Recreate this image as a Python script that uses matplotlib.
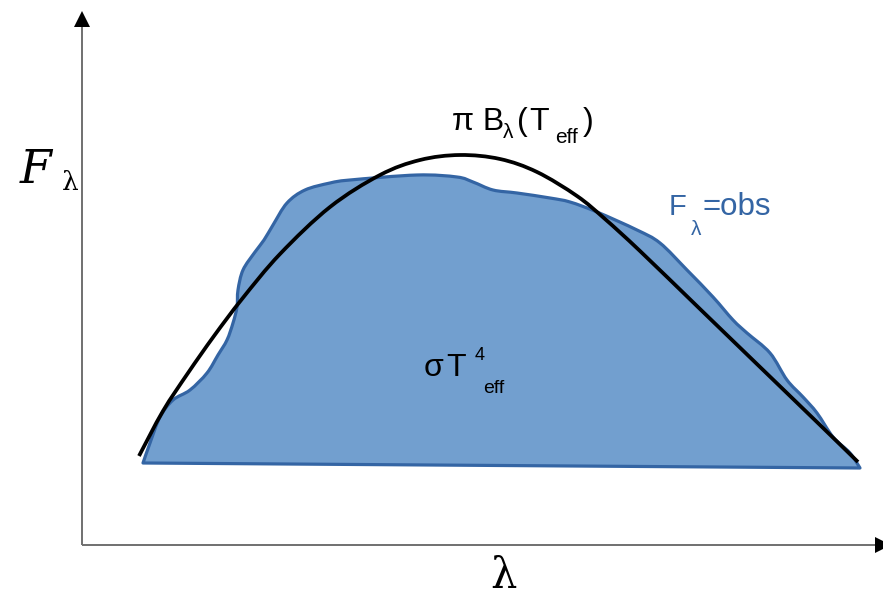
import matplotlib.pyplot as plt
import numpy as np
from matplotlib.path import Path
from matplotlib.patches import PathPatch

plt.rcParams['font.family'] = 'Liberation Sans'

# observed spectrum outline (wavelength, flux), traced left to right along the top
obs_lam = [61, 68, 78, 91, 108, 125, 136, 145, 151, 155, 156, 161, 173, 182, 191, 205,
           223, 248, 268, 335, 375, 391, 411, 435, 468, 488, 515, 555, 578, 605, 631,
           651, 665, 688, 705, 721, 735, 751, 768, 778]
obs_flux = [82, 102, 128, 145, 155, 172, 190, 205, 222, 238, 255, 275, 293, 305, 320, 342,
            355, 362, 365, 370, 368, 363, 355, 352, 347, 343, 333, 315, 302, 275, 248,
            225, 212, 192, 165, 148, 132, 108, 92, 77]

# blackbody curve pi*B_lambda(T_eff)
bb_lam = [57, 81, 106, 132, 160, 198, 248, 298, 338, 378, 418, 455, 495, 523,
          558, 618, 678, 738, 776]
bb_flux = [89, 134, 172, 209, 246, 291, 338, 370, 385, 390, 386, 373, 349, 326,
           294, 236, 178, 120, 83]

BLUE_FILL = '#729fcf'
BLUE_EDGE = '#3465a4'
AXIS_GREY = '#707070'


def smooth_path(xs, ys):
    """Catmull-Rom through the points, written as cubic Bezier segments."""
    p = np.column_stack([xs, ys]).astype(float)
    ext = np.vstack([p[0], p, p[-1]])
    verts = [p[0]]
    codes = [Path.MOVETO]
    for i in range(1, len(ext) - 2):
        p0, p1, p2, p3 = ext[i - 1], ext[i], ext[i + 1], ext[i + 2]
        verts += [p1 + (p2 - p0) / 6, p2 - (p3 - p1) / 6, p2]
        codes += [Path.CURVE4] * 3
    return verts, codes


def put(ax, x, y, s, size, **kw):
    ax.text(x, y, s, fontsize=size, va='baseline', ha='left', **kw)


fig = plt.figure(figsize=(8.83, 5.96), dpi=100)
ax = fig.add_axes([0, 0, 1, 1])
ax.set_xlim(-82, 801)
ax.set_ylim(-51, 545)
ax.axis('off')

# observed flux region: smooth top, straight base
verts, codes = smooth_path(obs_lam, obs_flux)
verts += [(obs_lam[0], obs_flux[0]), (0, 0)]
codes += [Path.LINETO, Path.CLOSEPOLY]
ax.add_patch(PathPatch(Path(verts, codes), facecolor=BLUE_FILL, edgecolor=BLUE_EDGE,
                       lw=2.3, joinstyle='round', zorder=2))

verts, codes = smooth_path(bb_lam, bb_flux)
ax.add_patch(PathPatch(Path(verts, codes), facecolor='none', edgecolor='black',
                       lw=2.7, capstyle='butt', zorder=3))

# axes with arrowheads
ax.plot([0, 0], [0, 520], color=AXIS_GREY, lw=1.4, zorder=1, solid_capstyle='butt')
ax.plot([0, 796], [0, 0], color=AXIS_GREY, lw=1.4, zorder=1, solid_capstyle='butt')
ax.plot(0, 526, marker='^', ms=11, color='black', mew=0, zorder=1)
ax.plot(801, 0, marker='>', ms=11, color='black', mew=0, zorder=1, clip_on=False)

# axis labels
put(ax, -62, 362, 'F', 33, fontfamily='DejaVu Serif', fontstyle='italic')
put(ax, -20, 355, 'λ', 19, fontfamily='DejaVu Serif')
ax.text(421, -43, 'λ', fontfamily='DejaVu Serif', fontsize=30, va='baseline', ha='center')

# pi B_lambda(T_eff)
put(ax, 370, 415, 'π B', 23)
put(ax, 421, 407, 'λ', 15)
put(ax, 435, 415, '(', 23)
put(ax, 447, 415, 'T', 23)
put(ax, 473, 402, 'eff', 15)
put(ax, 501, 415, ')', 23)

# F_lambda = obs
put(ax, 587, 330, 'F', 21, color=BLUE_EDGE)
put(ax, 609, 310, 'λ', 15, color=BLUE_EDGE)
put(ax, 621, 330, '=obs', 22.5, color=BLUE_EDGE)

# sigma T^4_eff
put(ax, 342, 169, 'σ', 23)
put(ax, 364, 169, 'T', 23)
put(ax, 393, 185, '4', 13)
put(ax, 401, 152, 'eff', 14)

fig.savefig('out.png', dpi=100)
